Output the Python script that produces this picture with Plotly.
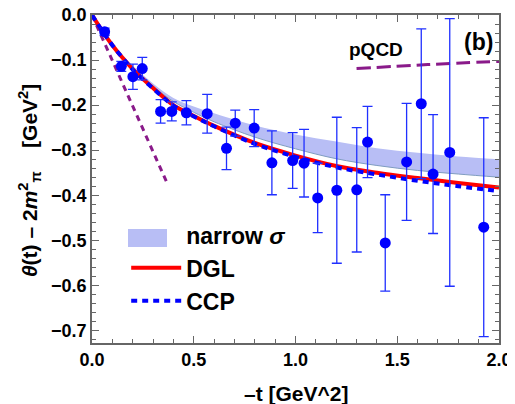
import plotly.graph_objects as go

# ---- data ----
pt_x = [0.062, 0.144, 0.201, 0.247, 0.337, 0.392, 0.464, 0.566, 0.661, 0.704, 0.797, 0.884,
        0.986, 1.042, 1.109, 1.203, 1.301, 1.354, 1.441, 1.546, 1.618, 1.676, 1.758, 1.925]
pt_y = [-0.037, -0.114, -0.137, -0.119, -0.214, -0.214, -0.217, -0.219, -0.296, -0.240, -0.251, -0.328,
        -0.323, -0.329, -0.406, -0.389, -0.388, -0.282, -0.506, -0.326, -0.197, -0.353, -0.305, -0.471]
pt_err = [0.008, 0.011, 0.028, 0.025, 0.026, 0.021, 0.027, 0.043, 0.047, 0.029, 0.041, 0.071,
          0.062, 0.075, 0.077, 0.162, 0.138, 0.079, 0.107, 0.130, 0.166, 0.132, 0.297, 0.243]

curve_x = [0, 0.05, 0.1, 0.15, 0.2, 0.3, 0.4, 0.5, 0.6, 0.8, 1.0, 1.2, 1.4, 1.6, 1.8, 2.0]
dgl_y = [0, -0.035, -0.067, -0.095, -0.120, -0.162, -0.200, -0.224, -0.246, -0.284, -0.312, -0.335,
         -0.350, -0.362, -0.373, -0.383]
ccp_y = [0, -0.035, -0.067, -0.095, -0.121, -0.163, -0.201, -0.225, -0.247, -0.286, -0.315, -0.338,
         -0.354, -0.368, -0.380, -0.391]
band_hi = [0, -0.033, -0.063, -0.089, -0.112, -0.152, -0.184, -0.203, -0.218, -0.245, -0.265, -0.281,
           -0.296, -0.306, -0.314, -0.320]
band_lo = [0, -0.035, -0.067, -0.094, -0.118, -0.158, -0.192, -0.216, -0.237, -0.271, -0.297, -0.319,
           -0.334, -0.345, -0.353, -0.360]

pqcd_low_x = [0.0, 0.365]
pqcd_low_y = [0.0, -0.369]
pqcd_high_x = [1.30, 1.65, 2.0]
pqcd_high_y = [-0.119, -0.110, -0.103]

FONT = "Liberation Sans, Arial, sans-serif"
BAND = "rgb(184,190,245)"
fig = go.Figure()

# band
fig.add_trace(go.Scatter(x=curve_x, y=band_hi, mode="lines", line_shape="spline",
                         line=dict(width=0, color=BAND), showlegend=False, hoverinfo="skip"))
fig.add_trace(go.Scatter(x=curve_x, y=band_lo, mode="lines", line_shape="spline",
                         fill="tonexty", fillcolor=BAND,
                         line=dict(color="#7f9cc0", width=1), showlegend=False))
# legend entry for band (its patch is drawn as a shape)
fig.add_trace(go.Scatter(x=[None], y=[None], mode="lines",
                         line=dict(color="rgba(0,0,0,0)", width=0), name="narrow <i>σ</i>"))

# pQCD lines
fig.add_trace(go.Scatter(x=pqcd_low_x, y=pqcd_low_y, mode="lines",
                         line=dict(color="#8a1a8a", width=3, dash="6px,5px"), showlegend=False))
fig.add_trace(go.Scatter(x=pqcd_high_x, y=pqcd_high_y, mode="lines", line_shape="spline",
                         line=dict(color="#8a1a8a", width=3, dash="14px,6px"), showlegend=False))

# DGL, CCP
fig.add_trace(go.Scatter(x=curve_x, y=dgl_y, mode="lines", line_shape="spline",
                         line=dict(color="#ff0000", width=4), name="DGL"))
fig.add_trace(go.Scatter(x=curve_x, y=ccp_y, mode="lines", line_shape="spline",
                         line=dict(color="#0000ff", width=4, dash="6px,5px"), name="CCP"))

# data points
fig.add_trace(go.Scatter(x=pt_x, y=pt_y, mode="markers",
                         marker=dict(color="#0000ff", size=11),
                         error_y=dict(type="data", array=pt_err, visible=True,
                                      color="#2030ff", thickness=1.3, width=5),
                         showlegend=False))

axis_common = dict(showline=True, linecolor="#666666", linewidth=1.5, mirror="allticks",
                   ticks="inside", tickcolor="#666666", ticklen=7, tickwidth=1,
                   showgrid=False, zeroline=False, tickformat=".1f", automargin=False,
                   ticklabeloverflow="allow",
                   tickfont=dict(size=18, color="black", family=FONT, weight="bold"))

fig.update_layout(
    width=507, height=396,
    margin=dict(l=84, r=16, t=7, b=61, autoexpand=False),
    paper_bgcolor="white", plot_bgcolor="white",
    font=dict(family=FONT, color="black", weight="bold"),
    xaxis=dict(range=[0, 2.0], tickvals=[0, 0.5, 1.0, 1.5, 2.0],
               minor=dict(dtick=0.1, ticks="inside", ticklen=4, tickcolor="#666666"),
               **axis_common),
    yaxis=dict(range=[-0.728, 0.0], tickvals=[0, -0.1, -0.2, -0.3, -0.4, -0.5, -0.6, -0.7],
               minor=dict(dtick=0.02, ticks="inside", ticklen=4, tickcolor="#666666"),
               ticksuffix="\u00a0\u2009",
               **axis_common),
    legend=dict(x=0.084, y=0.395, xanchor="left", yanchor="top", traceorder="normal",
                bgcolor="rgba(0,0,0,0)", font=dict(size=23, family=FONT, weight="bold"),
                itemwidth=50, tracegroupgap=0),
    showlegend=True,
)

# band legend patch
fig.add_shape(type="rect", xref="paper", yref="paper",
              x0=(120 - 84) / 407, x1=(159 - 84) / 407,
              y0=(335 - 239) / 328, y1=(335 - 221) / 328,
              fillcolor=BAND, line=dict(width=0), layer="above")

fig.add_annotation(xref="paper", yref="paper", x=0.5, y=-0.155, xanchor="center", yanchor="middle",
                   showarrow=False, text="–t [GeV^2]",
                   font=dict(size=21, family=FONT, weight="bold"))
fig.add_annotation(xref="paper", yref="paper", x=-0.152, y=0.494, xanchor="center", yanchor="middle",
                   textangle=-90, showarrow=False,
                   text="<i>θ</i>(t) – 2<i>m</i><sup>2</sup><sub>π</sub>\u00a0\u00a0\u00a0\u00a0[GeV<sup>2</sup>]",
                   font=dict(size=21, family=FONT, weight="bold"))
fig.add_annotation(x=1.395, y=-0.077, text="pQCD", showarrow=False,
                   font=dict(size=19, family=FONT, weight="bold"))
fig.add_annotation(x=1.90, y=-0.059, text="(b)", showarrow=False,
                   font=dict(size=23, family=FONT, weight="bold"))

fig.write_html("out.html")
